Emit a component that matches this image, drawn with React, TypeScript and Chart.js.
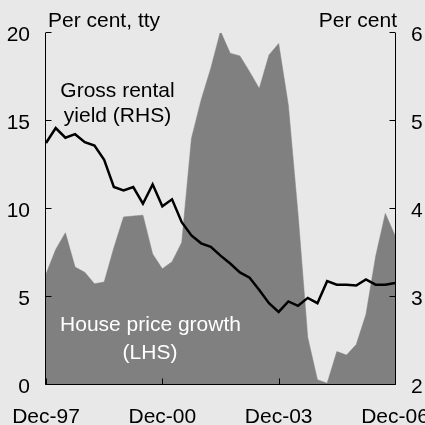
import { useEffect, useRef } from 'react';
import { Chart, registerables } from 'chart.js';

Chart.register(...registerables);

const quarterLabels = [
  'Dec-97', 'Mar-98', 'Jun-98', 'Sep-98', 'Dec-98', 'Mar-99', 'Jun-99', 'Sep-99',
  'Dec-99', 'Mar-00', 'Jun-00', 'Sep-00', 'Dec-00', 'Mar-01', 'Jun-01', 'Sep-01',
  'Dec-01', 'Mar-02', 'Jun-02', 'Sep-02', 'Dec-02', 'Mar-03', 'Jun-03', 'Sep-03',
  'Dec-03', 'Mar-04', 'Jun-04', 'Sep-04', 'Dec-04', 'Mar-05', 'Jun-05', 'Sep-05',
  'Dec-05', 'Mar-06', 'Jun-06', 'Sep-06', 'Dec-06',
];
const xTickLabels = ['Dec-97', 'Dec-00', 'Dec-03', 'Dec-06'];

const housePriceGrowth = [
  6.3, 7.7, 8.65, 6.7, 6.4, 5.75, 5.85, 7.8, 9.55, 9.6, 9.65, 7.45, 6.6, 7.0, 8.1,
  14.0, 16.2, 18.0, 20.1, 18.85, 18.7, 17.8, 16.85, 18.75, 19.4, 15.9, 9.7, 2.7,
  0.3, 0.1, 1.9, 1.7, 2.3, 4.0, 7.3, 9.75, 8.5,
];
const rentalYield = [
  4.75, 4.92, 4.81, 4.85, 4.76, 4.72, 4.56, 4.25, 4.21, 4.25, 4.06, 4.28, 4.03, 4.11,
  3.85, 3.7, 3.61, 3.57, 3.47, 3.38, 3.28, 3.22, 3.08, 2.93, 2.83, 2.95, 2.9, 2.99,
  2.93, 3.18, 3.14, 3.14, 3.13, 3.2, 3.14, 3.14, 3.16,
];
const leftTicks = [0, 5, 10, 15, 20];
const rightTicks = [2, 3, 4, 5, 6];

export default function App() {
  const ref = useRef<HTMLCanvasElement>(null);
  useEffect(() => {
    if (!ref.current) return;
    const FONT = '21px "Liberation Sans", Arial, sans-serif';
    const decor = {
      id: 'decor',
      beforeDraw(chart: any) {
        const ctx = chart.ctx;
        ctx.save();
        ctx.fillStyle = '#e8e8e8';
        ctx.fillRect(0, 0, chart.width, chart.height);
        ctx.restore();
      },
      afterDatasetsDraw(chart: any) {
        const ctx = chart.ctx;
        const a = chart.chartArea;
        const x = chart.scales.x;
        const y = chart.scales.y;
        const y1 = chart.scales.y1;
        ctx.save();
        ctx.strokeStyle = '#000';
        ctx.lineWidth = 1;
        const L = Math.round(a.left) - 0.5;
        const R = Math.round(a.right) + 0.5;
        const B = Math.round(a.bottom) - 0.5;
        ctx.beginPath();
        ctx.moveTo(L, Math.round(a.top));
        ctx.lineTo(L, B);
        ctx.lineTo(R, B);
        ctx.lineTo(R, Math.round(a.top));
        leftTicks.forEach((v) => {
          const py = Math.round(y.getPixelForValue(v)) - 0.5;
          ctx.moveTo(L, py);
          ctx.lineTo(L + 6, py);
        });
        rightTicks.forEach((v) => {
          const py = Math.round(y1.getPixelForValue(v)) - 0.5;
          ctx.moveTo(R, py);
          ctx.lineTo(R - 6, py);
        });
        xTickLabels.forEach((lab) => {
          const px = Math.round(x.getPixelForValue(quarterLabels.indexOf(lab))) + 0.5;
          ctx.moveTo(px, B);
          ctx.lineTo(px, B - 6);
        });
        ctx.stroke();

        ctx.font = FONT;
        ctx.fillStyle = '#000';
        ctx.textBaseline = 'alphabetic';
        ctx.textAlign = 'right';
        leftTicks.forEach((v) => {
          ctx.fillText(String(v), 30, y.getPixelForValue(v) + 7.5);
        });
        ctx.textAlign = 'left';
        rightTicks.forEach((v) => {
          ctx.fillText(String(v), 411, y1.getPixelForValue(v) + 7.5);
        });
        ctx.textAlign = 'center';
        xTickLabels.forEach((lab) => {
          ctx.fillText(lab, x.getPixelForValue(quarterLabels.indexOf(lab)), 423);
        });
        ctx.textAlign = 'left';
        ctx.fillText('Per cent, tty', 48, 26.5);
        ctx.textAlign = 'right';
        ctx.fillText('Per cent', 397, 26.5);
        ctx.textAlign = 'center';
        ctx.fillText('Gross rental', 117.5, 96.5);
        ctx.fillText('yield (RHS)', 117.5, 121.5);
        ctx.fillStyle = '#fff';
        ctx.fillText('House price growth', 150.5, 331);
        ctx.fillText('(LHS)', 150, 358.5);
        ctx.restore();
      },
    };
    const chart = new Chart(ref.current, {
      type: 'line',
      data: {
        labels: quarterLabels,
        datasets: [
          {
            label: 'Gross rental yield (RHS)',
            data: rentalYield,
            yAxisID: 'y1',
            borderColor: '#000',
            borderWidth: 2.5,
            pointRadius: 0,
            fill: false,
            tension: 0,
            order: 0,
          },
          {
            label: 'House price growth (LHS)',
            data: housePriceGrowth,
            yAxisID: 'y',
            borderColor: '#808080',
            borderWidth: 0.5,
            backgroundColor: '#808080',
            pointRadius: 0,
            fill: 'origin',
            tension: 0,
            order: 1,
          },
        ],
      },
      options: {
        animation: false,
        responsive: false,
        devicePixelRatio: 1,
        layout: { padding: { left: 46, right: 30, top: 33, bottom: 40 } },
        plugins: { legend: { display: false }, tooltip: { enabled: false } },
        scales: {
          x: { type: 'category', display: false, offset: false },
          y: { display: false, min: 0, max: 20 },
          y1: { display: false, min: 2, max: 6, position: 'right' },
        },
      },
      plugins: [decor],
    });
    return () => chart.destroy();
  }, []);
  return (
    <div style={{ position: 'fixed', left: 0, top: 0, width: 425, height: 425 }}>
      <canvas ref={ref} width={425} height={425} style={{ width: 425, height: 425, display: 'block' }} />
    </div>
  );
}
